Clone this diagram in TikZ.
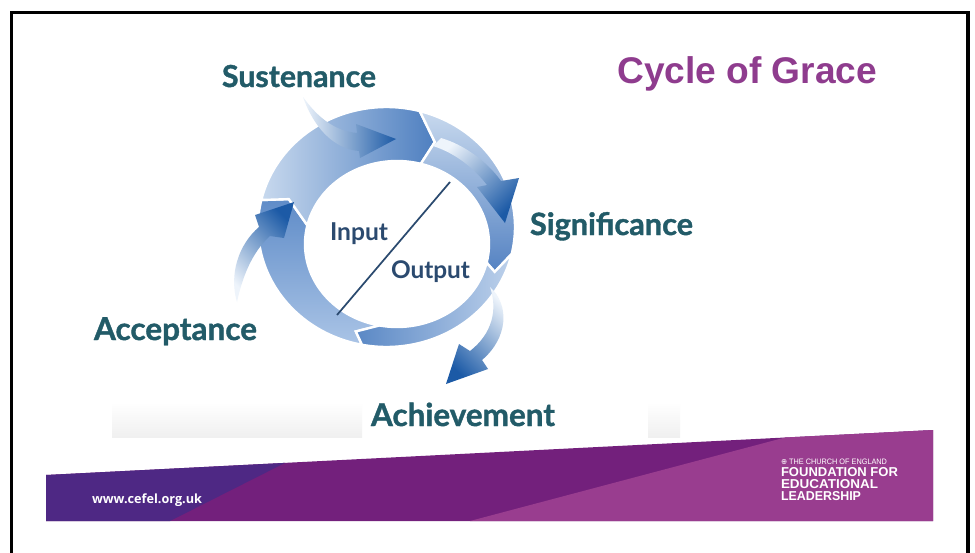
\documentclass[tikz,border=0pt]{standalone}
\usepackage{fontspec}
\setmainfont{Lato}
\newfontfamily\heavyf{Lato}[BoldFeatures={FakeBold=1.2}]
\newfontfamily\arialf{Liberation Sans}
\newfontfamily\osansf{Open Sans}
\newfontfamily\djvf{DejaVu Sans}
\usepackage{graphicx}
\newdimen\pxu \pxu=0.75pt
\newcommand\fitw[2]{\resizebox{#1\pxu}{!}{#2}}
\newcommand\fitwh[3]{\resizebox{#1\pxu}{#2\pxu}{#3}}
\definecolor{cgTeal}{HTML}{225B68}
\definecolor{cgNavy}{HTML}{2B4A6F}
\definecolor{cgTitle}{HTML}{8F3C8E}
\definecolor{cgIndigo}{HTML}{4E2884}
\definecolor{cgPurple}{HTML}{73207C}
\definecolor{cgMagenta}{HTML}{993D8F}
\definecolor{arrLight}{HTML}{EEF4FB}
\definecolor{arrDark}{HTML}{1C5AA6}
\def\ocx{386.5}\def\ocy{227}\def\orx{128.5}\def\ory{120}
\def\icx{397}\def\icy{244}\def\irx{92}\def\iry{83}
\def\mcx{391.75}\def\mcy{235.5}\def\mrx{110.25}\def\mry{101.5}
\def\dl{8}
\newcommand\ringseg[3]{%
  \path[#3] plot[domain=#1:#2,samples=60] ({\ocx+\orx*cos(\x)},{\ocy-\ory*sin(\x)})
    -- ({\mcx+\mrx*cos(#2-\dl)},{\mcy-\mry*sin(#2-\dl)})
    -- plot[domain=#2:#1,samples=60] ({\icx+\irx*cos(\x)},{\icy-\iry*sin(\x)})
    -- ({\mcx+\mrx*cos(#1-\dl)},{\mcy-\mry*sin(#1-\dl)}) -- cycle;}
\begin{document}
\begin{tikzpicture}[x=0.75pt,y=-0.75pt,
  seg/.style={draw=white,line width=1.8pt,line join=miter},
  tl/.style={anchor=base west,inner sep=0,outer sep=0,text=cgTeal,font=\heavyf\bfseries},
  io/.style={anchor=base west,inner sep=0,outer sep=0,text=cgNavy,font=\bfseries},
  wt/.style={anchor=base west,inner sep=0,outer sep=0,text=white}]
\useasboundingbox (0,0) rectangle (975,553);
\fill[white] (0,0) rectangle (975,553);
% frame
\draw[line width=2.3pt] (11.3,553) -- (11.3,12.2) -- (968,12.2) -- (968,553);
% faint grey bars under the cycle picture
\shade[top color=white,bottom color=black!6] (112,402) rectangle (362,437);
\shade[top color=white,bottom color=black!6] (648,402) rectangle (680,437);
% ring segments
\ringseg{259}{167}{seg,top color={rgb,255:red,95;green,140;blue,200},bottom color={rgb,255:red,170;green,196;blue,230}}
\ringseg{167}{75}{seg,left color={rgb,255:red,200;green,217;blue,238},right color={rgb,255:red,78;green,127;blue,192}}
\ringseg{75}{-13}{seg,top color={rgb,255:red,200;green,217;blue,238},bottom color={rgb,255:red,84;green,130;blue,194}}
\ringseg{-13}{-101}{seg,left color={rgb,255:red,90;green,136;blue,197},right color={rgb,255:red,189;green,209;blue,235}}
% swoosh arrows
\shade[left color=arrLight,right color=arrDark] (303,97) .. controls (318,118) and (335,131) .. (357,133) -- (356,124) -- (396,139) -- (360,158) -- (359,151) .. controls (334,149) and (314,128) .. (303,97) -- cycle;
\shade[top color=arrLight,bottom color=arrDark,shading angle=45] (433,146) -- (441,138) .. controls (462,144) and (486,160) .. (501,181) -- (519,178) -- (505,223) -- (477,187) -- (487,185) .. controls (474,168) and (455,153) .. (433,146) -- cycle;
\shade[top color=arrLight,bottom color=arrDark,shading angle=-45] (490,287) .. controls (510,305) and (508,338) .. (482,360) -- (488,369) -- (446,384) -- (459,344) -- (470,351) .. controls (492,334) and (498,310) .. (490,287) -- cycle;
\shade[top color=arrDark,bottom color=arrLight,shading angle=-45] (237,302) .. controls (229,275) and (238,245) .. (259,227) -- (255,215) -- (294,202) -- (284,238) -- (270,236) .. controls (252,252) and (242,278) .. (237,302) -- cycle;
% input / output
\coordinate (dA) at (337,315);
\coordinate (dB) at (450,182);
\draw[cgNavy,line width=1.3pt] (dA) -- (dB);
\node[io] (inp) at (330,240) {\fitw{58}{Input}};
\node[io] (outp) at (391,278) {\fitw{79}{Output}};
% labels
\node[tl] (sus) at (222,87) {\fitw{154}{Sustenance}};
\node[tl] (sig) at (530,235) {\fitw{163}{Significance}};
\node[tl] (acc) at (94,340) {\fitw{163}{Acceptance}};
\node[tl] (ach) at (371,426) {\fitw{184}{Achievement}};
\node[anchor=base west,inner sep=0,text=cgTitle,font=\arialf\bfseries] (title) at (617,83) {\fitw{260}{Cycle of Grace}};
% footer band
\fill[cgPurple] (46,475) -- (933,430) -- (933,521) -- (46,521) -- cycle;
\fill[cgIndigo] (46,475) -- (285,462.9) -- (170,521) -- (46,521) -- cycle;
\fill[cgMagenta] (470,521) -- (785,437.5) -- (933,430) -- (933,521) -- cycle;
\node[wt,font=\osansf\bfseries] (web) at (92,503) {\fitw{110}{www.cefel.org.uk}};
\node[wt,font=\arialf] (coe) at (781,464) {\fitwh{106}{5.5}{{\djvf ⊕} THE CHURCH OF ENGLAND}};
\node[wt,font=\arialf\bfseries] (f1) at (781,476.5) {\fitwh{117}{9}{FOUNDATION FOR}};
\node[wt,font=\arialf\bfseries] (f2) at (781,488.5) {\fitwh{97}{9}{EDUCATIONAL}};
\node[wt,font=\arialf\bfseries] (f3) at (781,500.5) {\fitwh{80}{9}{LEADERSHIP}};
\end{tikzpicture}
\end{document}
